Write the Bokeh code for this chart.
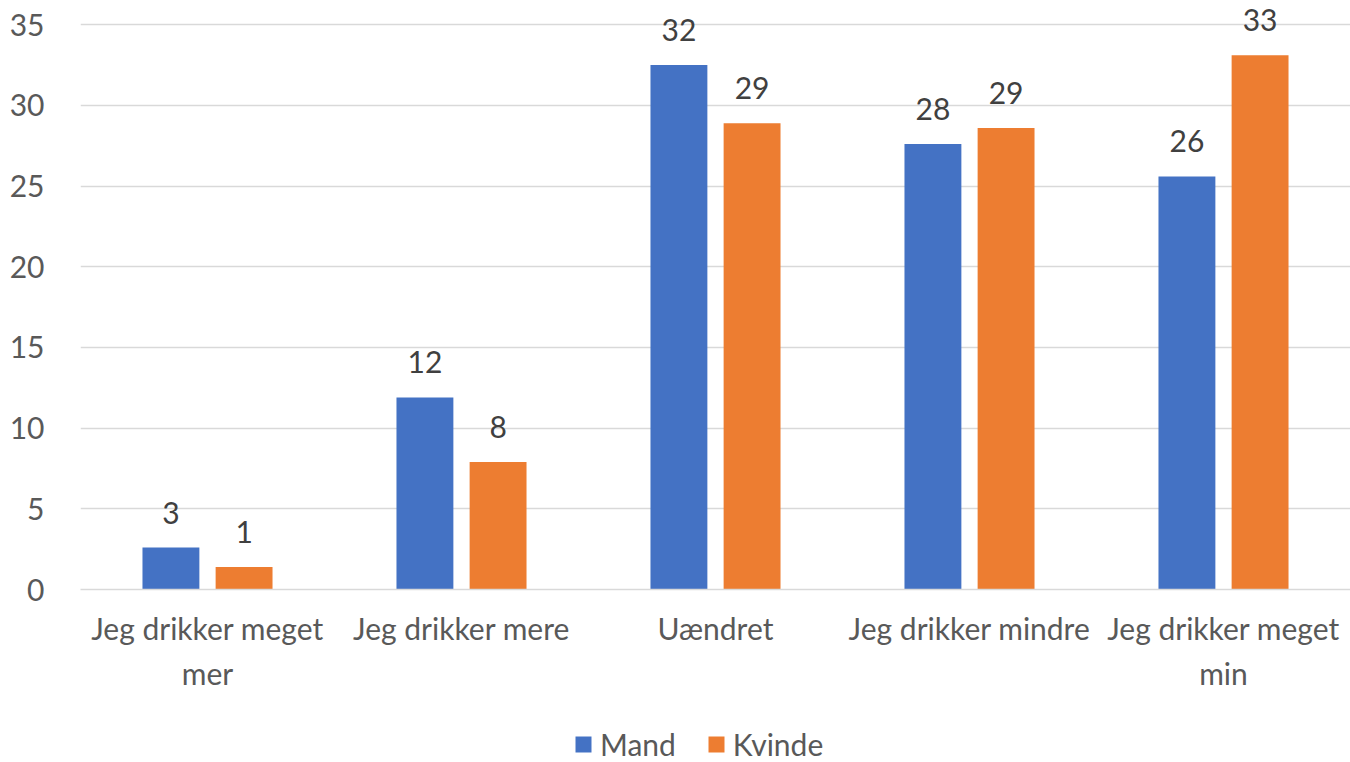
import numpy as np
from bokeh.plotting import figure
from bokeh.layouts import column
from bokeh.models import (ColumnDataSource, Legend, LegendItem, Range1d,
                          LinearAxis, FixedTicker)
from bokeh.core.properties import value
from bokeh.embed import file_html
from bokeh.resources import INLINE

categories = ["Jeg drikker meget mer", "Jeg drikker mere", "Uændret",
              "Jeg drikker mindre", "Jeg drikker meget min"]
tick_line1 = ["Jeg drikker meget", "Jeg drikker mere", "Uændret",
              "Jeg drikker mindre", "Jeg drikker meget"]
tick_line2 = ["mer", "", "", "", "min"]
series = ["Mand", "Kvinde"]
mand = [2.6, 11.9, 32.5, 27.6, 25.6]
kvinde = [1.4, 7.9, 28.9, 28.6, 33.1]
y_ticks = [0, 5, 10, 15, 20, 25, 30, 35]

FONT = "Lato"
FS = "30px"
BLUE = "#4472C4"
ORANGE = "#ED7D31"
GRID = "#d9d9d9"
TXT = "#595959"

pos = np.arange(len(categories)) + 0.5
off = 0.144
w = 0.224

src = ColumnDataSource(dict(
    cat=categories,
    xm=pos - off,
    xk=pos + off,
    mand=mand,
    kvinde=kvinde,
    mand_lbl=[str(int(round(v))) for v in mand],
    kvinde_lbl=[str(int(round(v))) for v in kvinde],
))

p = figure(frame_width=1270, frame_height=589,
           x_range=Range1d(0, len(categories)), y_range=Range1d(0, 36.5),
           output_backend="svg", toolbar_location=None, x_axis_location=None,
           min_border_left=80, min_border_right=0, min_border_top=0,
           min_border_bottom=111)
p.title.visible = False
p.outline_line_color = None
p.background_fill_color = "white"
p.border_fill_color = "white"

p.vbar(x="xm", top="mand", width=w, source=src, fill_color=BLUE, line_color=None)
p.vbar(x="xk", top="kvinde", width=w, source=src, fill_color=ORANGE, line_color=None)

for xc, col, lbl in (("xm", "mand", "mand_lbl"), ("xk", "kvinde", "kvinde_lbl")):
    p.text(x=xc, y=col, text=lbl, source=src,
           text_font=value(FONT), text_font_size=FS, text_color="#404040",
           text_align="center", text_baseline="bottom", y_offset=-24)

# two stacked x axes give the two lines of the wrapped category labels
ax1 = LinearAxis(ticker=FixedTicker(ticks=list(pos)),
                 major_label_overrides={float(x): t for x, t in zip(pos, tick_line1)},
                 axis_line_color=GRID, axis_line_width=1.5,
                 major_tick_line_color=None, minor_tick_line_color=None,
                 major_label_text_font=FONT, major_label_text_font_size=FS,
                 major_label_text_color=TXT, major_label_standoff=14)
p.add_layout(ax1, "below")
sel = [i for i, t in enumerate(tick_line2) if t]
ax2 = LinearAxis(ticker=FixedTicker(ticks=[float(pos[i]) for i in sel]),
                 major_label_overrides={float(pos[i]): tick_line2[i] for i in sel},
                 axis_line_color=None, major_tick_line_color=None,
                 minor_tick_line_color=None, major_label_text_font=FONT,
                 major_label_text_font_size=FS, major_label_text_color=TXT,
                 major_label_standoff=0)
p.add_layout(ax2, "below")

p.yaxis.ticker = y_ticks
p.yaxis.axis_line_color = None
p.yaxis.major_tick_line_color = None
p.yaxis.minor_tick_line_color = None
p.yaxis.major_label_text_font = FONT
p.yaxis.major_label_text_font_size = FS
p.yaxis.major_label_text_color = TXT
p.yaxis.major_label_standoff = 30

p.xgrid.grid_line_color = None
p.ygrid.grid_line_color = GRID
p.ygrid.grid_line_width = 1.5

# legend strip underneath the chart (keys only, no visible marks)
lf = figure(width=1350, height=62, x_range=Range1d(0, 1), y_range=Range1d(0, 1),
            output_backend="svg", toolbar_location=None,
            x_axis_location=None, y_axis_location=None,
            min_border_left=0, min_border_right=0, min_border_top=0,
            min_border_bottom=0)
lf.title.visible = False
lf.outline_line_color = None
lf.xgrid.grid_line_color = None
lf.ygrid.grid_line_color = None
key_src = ColumnDataSource(dict(x=[float("nan")], top=[float("nan")]))
k1 = lf.vbar(x="x", top="top", width=0.1, source=key_src, fill_color=BLUE, line_color=None)
k2 = lf.vbar(x="x", top="top", width=0.1, source=key_src, fill_color=ORANGE, line_color=None)
legend = Legend(items=[LegendItem(label=series[0], renderers=[k1]),
                       LegendItem(label=series[1], renderers=[k2])],
                orientation="horizontal", location=(493, 0),
                label_text_font=FONT, label_text_font_size=FS,
                label_text_color=TXT, glyph_width=20, glyph_height=20,
                spacing=30, border_line_color=None, background_fill_alpha=0,
                margin=0, padding=0, label_standoff=7)
lf.add_layout(legend, "center")

open("out.html", "w").write(file_html(column(p, lf, spacing=0), INLINE))
